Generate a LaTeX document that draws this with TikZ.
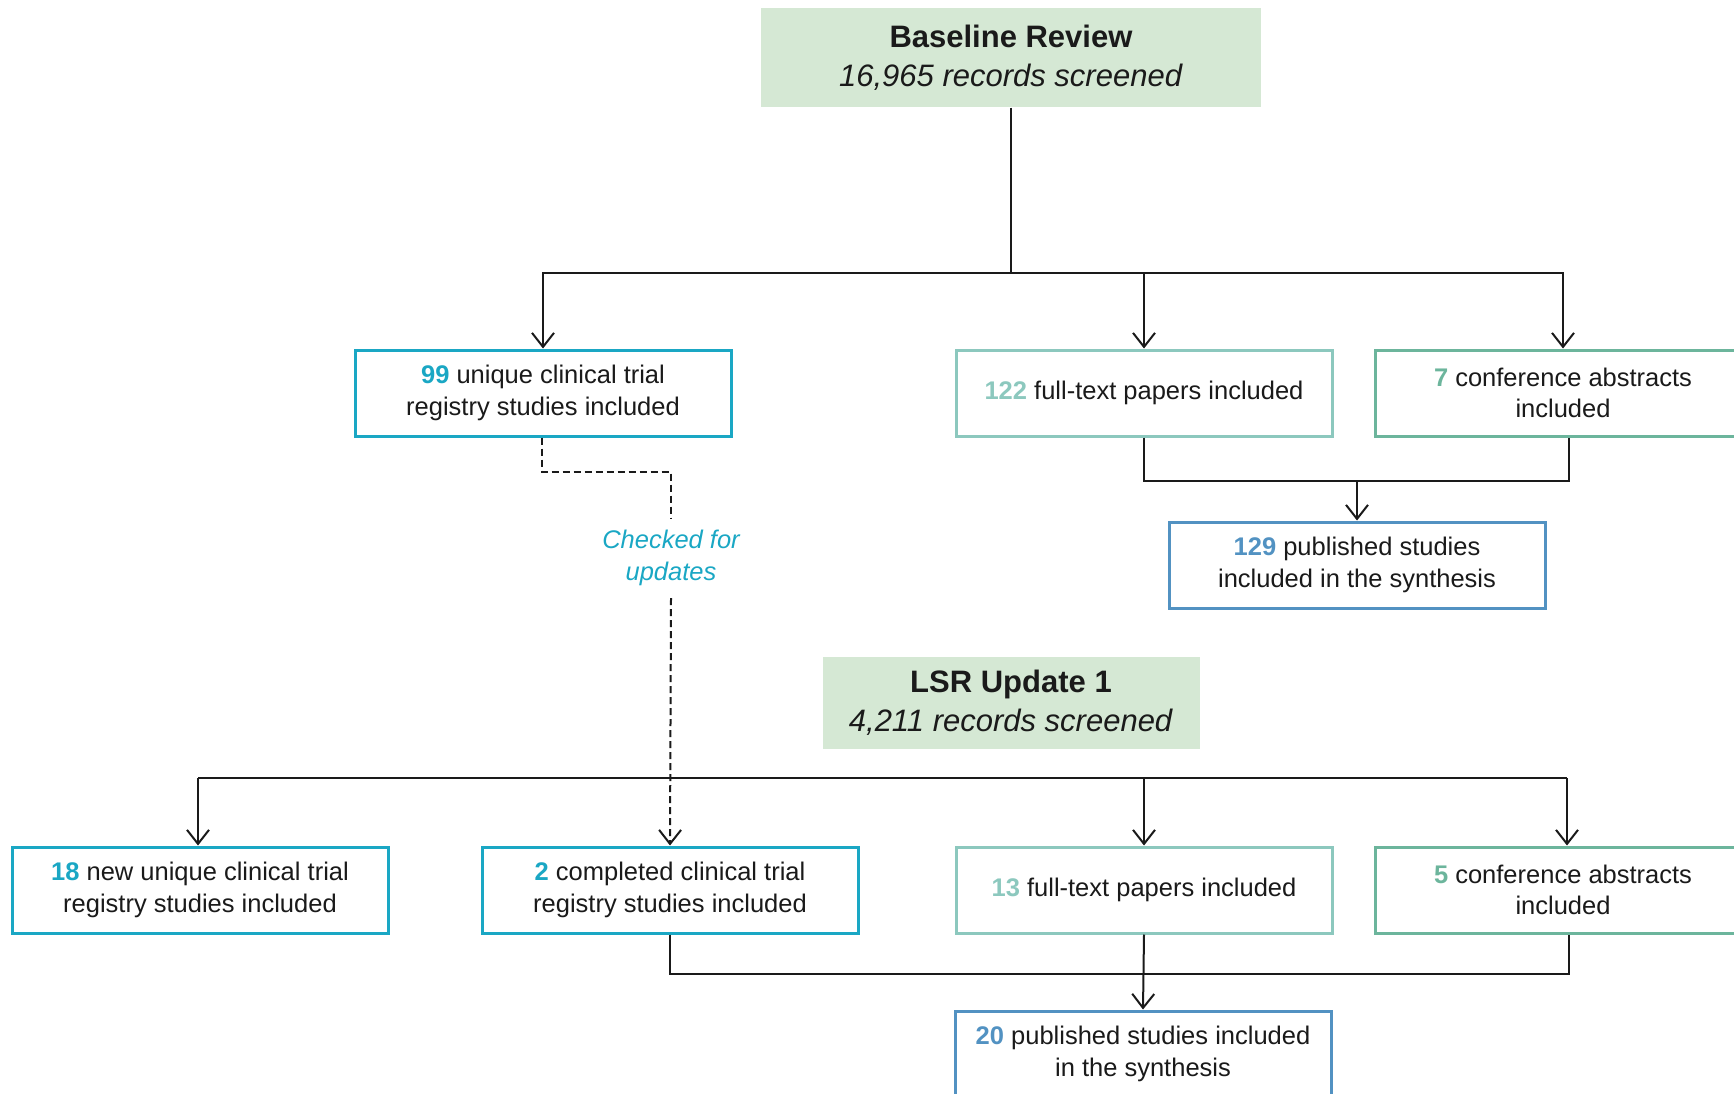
\documentclass[tikz,border=0pt]{standalone}
\usepackage{fontspec}
\setmainfont{Liberation Sans}
\usetikzlibrary{arrows.meta}
\definecolor{hdrfill}{HTML}{D5E8D4}
\definecolor{regc}{HTML}{1AA7C4}
\definecolor{fullc}{HTML}{8CC8BE}
\definecolor{confc}{HTML}{6CB59C}
\definecolor{pubc}{HTML}{5292C2}
\definecolor{txt}{HTML}{1A1A1A}
\newcommand{\numc}[2]{\textcolor{#1}{\textbf{#2}}}
\tikzset{
  hdr/.style={fill=hdrfill, draw=none, align=center, text=txt, inner sep=0pt,
    font=\fontsize{31}{39}\selectfont},
  box/.style={draw=#1, fill=white, line width=3pt, align=center, text=txt, inner sep=0pt,
    minimum width=376pt, minimum height=86pt, font=\fontsize{25.5}{31.5}\selectfont},
  conn/.style={line width=2pt, draw=txt},
  arr/.style={conn, -{Straight Barb[length=14pt,width=22pt,line width=2pt]}},
  dsh/.style={line width=2pt, draw=txt, dash pattern=on 7pt off 4pt}
}
\begin{document}
\begin{tikzpicture}[x=1pt,y=-1pt]
\useasboundingbox (0,0) rectangle (1734,1094);
% headers
\node[hdr, minimum width=500pt, minimum height=99pt] (base) at (1011,58)
  {\textbf{Baseline Review}\\\textit{16,965 records screened}};
\node[hdr, minimum width=377pt, minimum height=92pt] (lsr) at (1011,703)
  {\textbf{LSR Update 1}\\\textit{4,211 records screened}};
% baseline row
\node[box=regc] (r99) at (543,393) {\numc{regc}{99} unique clinical trial\\registry studies included};
\node[box=fullc] (f122) at (1144,393) {\numc{fullc}{122} full-text papers included};
\node[box=confc] (c7) at (1563,393) {\numc{confc}{7} conference abstracts\\included};
\node[box=pubc] (p129) at (1357,565) {\numc{pubc}{129} published studies\\included in the synthesis};
% check label
\node[text=regc, align=center, inner sep=0pt, font=\fontsize{25.5}{32}\selectfont\itshape] (chk) at (671,558) {Checked for\\updates};
% update row
\node[box=regc] (n18) at (200,890) {\numc{regc}{18} new unique clinical trial\\registry studies included};
\node[box=regc] (c2) at (670,890) {\numc{regc}{2} completed clinical trial\\registry studies included};
\node[box=fullc] (f13) at (1144,890) {\numc{fullc}{13} full-text papers included};
\node[box=confc] (c5) at (1563,890) {\numc{confc}{5} conference abstracts\\included};
\node[box=pubc] (p20) at (1143,1054) {\numc{pubc}{20} published studies included\\in the synthesis};
% coordinates
\coordinate (h1) at (1011,273);
\coordinate (m1) at (1569,481);
\coordinate (d1) at (542,472);
\coordinate (l1) at (198,778);
\coordinate (l2) at (1567,778);
\coordinate (m2) at (1569,974);
% baseline connectors
\draw[conn] (base.south) -- (h1);
\draw[arr] (h1) -| (r99.north);
\draw[arr] (h1) -| (c7.north);
\draw[arr] (f122.north |- h1) -- (f122.north);
\draw[conn] (f122.south) |- (m1) -- (m1 |- c7.south);
\draw[arr] (p129.north |- m1) -- (p129.north);
% dashed check
\draw[dsh] (d1 |- r99.south) -- (d1) -| ([yshift=12pt]chk.north);
\draw[dsh, -{Straight Barb[length=14pt,width=22pt,line width=2pt]}] ([yshift=-12pt]chk.south) -- (c2.north);
% update connectors
\draw[conn] (l1) -- (l2);
\draw[arr] (l1) -- (l1 |- n18.north);
\draw[arr] (l2) -- (l2 |- c5.north);
\draw[arr] (f13.north |- l1) -- (f13.north);
\draw[conn] (c2.south) |- (m2) -- (m2 |- c5.south);
\draw[arr] (f13.south) -- (p20.north);
\end{tikzpicture}
\end{document}
